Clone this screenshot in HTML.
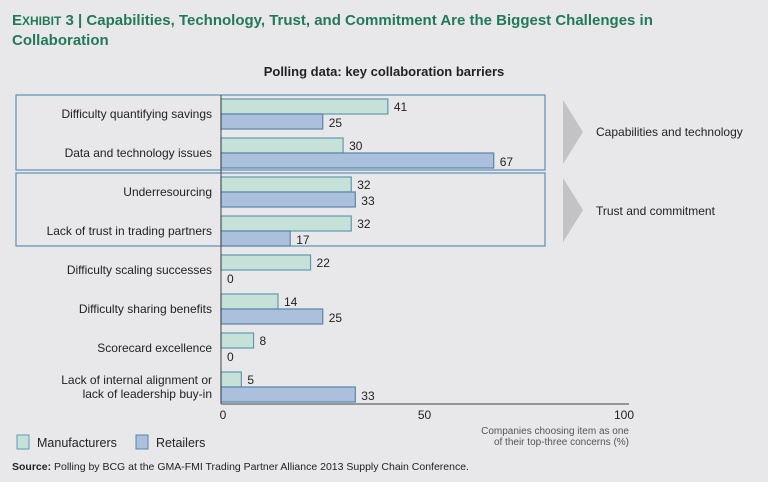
<!DOCTYPE html>
<html><head><meta charset="utf-8"><style>
body{margin:0;background:#e8e8ea;}
svg{display:block;font-family:"Liberation Sans",sans-serif;}
</style></head><body>
<svg id="c" width="768" height="482" viewBox="0 0 768 482" xmlns="http://www.w3.org/2000/svg">
<rect width="768" height="482" fill="#e8e8ea"/>
<text x="12" y="25" font-size="15" font-weight="bold" fill="#21795a"><tspan font-size="15">E</tspan><tspan font-size="12">XHIBIT</tspan> 3 | Capabilities, Technology, Trust, and Commitment Are the Biggest Challenges in</text>
<text x="12" y="45" font-size="15" font-weight="bold" fill="#21795a">Collaboration</text>
<text x="384" y="76" font-size="13" font-weight="bold" fill="#222" text-anchor="middle">Polling data: key collaboration barriers</text>
<rect x="16" y="95" width="529" height="75" fill="none" stroke="#5e90b2" stroke-width="1.2"/>
<rect x="16" y="173" width="529" height="73" fill="none" stroke="#5e90b2" stroke-width="1.2"/>
<polygon points="563,100 583,132 563,164" fill="#c3c3c6"/>
<polygon points="563,178 583,210 563,242" fill="#c3c3c6"/>
<text x="596" y="136" font-size="12" fill="#222">Capabilities and technology</text>
<text x="596" y="215" font-size="12" fill="#222">Trust and commitment</text>
<g id="bars"></g>
<line x1="221" y1="95" x2="221" y2="404" stroke="#444" stroke-width="1"/>
<line x1="221" y1="404" x2="629" y2="404" stroke="#444" stroke-width="1"/>
<g id="ticks"></g>
<text x="629" y="434" font-size="10" fill="#555" text-anchor="end">Companies choosing item as one</text>
<text x="629" y="445" font-size="10" fill="#555" text-anchor="end">of their top-three concerns (%)</text>
<rect x="17" y="435" width="12" height="14" fill="#c6e1d8" stroke="#5f9ab2"/>
<text x="37" y="447" font-size="12.5" fill="#222">Manufacturers</text>
<rect x="136" y="435" width="12" height="14" fill="#abc0dd" stroke="#5b85a8"/>
<text x="156" y="447" font-size="12.5" fill="#222">Retailers</text>
<text x="12" y="470" font-size="10.5" fill="#222"><tspan font-weight="bold">Source:</tspan> Polling by BCG at the GMA-FMI Trading Partner Alliance 2013 Supply Chain Conference.</text>
</svg>
<script>
const categories=[["Difficulty quantifying savings"],["Data and technology issues"],["Underresourcing"],["Lack of trust in trading partners"],["Difficulty scaling successes"],["Difficulty sharing benefits"],["Scorecard excellence"],["Lack of internal alignment or","lack of leadership buy-in"]];
const manufacturers=[41,30,32,32,22,14,8,5];
const retailers=[25,67,33,17,0,25,0,33];
const xTicks=[0,50,100];
const NS="http://www.w3.org/2000/svg";
function x(v){return 221+v*4.07;}
function yc(i){return 114+i*39;}
function mk(tag,attrs,parent){const e=document.createElementNS(NS,tag);for(const k in attrs)e.setAttribute(k,attrs[k]);parent.appendChild(e);return e;}
const g=document.getElementById('bars');
categories.forEach((lines,i)=>{
  const c=yc(i);
  const t=mk('text',{x:212,'font-size':12,fill:'#222','text-anchor':'end'},g);
  
  
  lines.forEach((l,j)=>{const s=mk('tspan',{x:212,y:c+4+(lines.length>1?(j-0.5)*14:0)},t);s.textContent=l;});
  const m=manufacturers[i],r=retailers[i];
  const bm=mk('rect',{x:x(0),y:c-15,width:x(m)-x(0),height:15,fill:'#c6e1d8',stroke:'#5f9ab2','stroke-width':1.2},g);
  
  
  const br=mk('rect',{x:x(0),y:c,width:x(r)-x(0),height:15,fill:'#abc0dd',stroke:'#5b85a8','stroke-width':1.2},g);
  
  
  const lm=mk('text',{x:x(m)+6,y:c-3,'font-size':12,fill:'#222'},g);lm.textContent=m;
  
  
  const lr=mk('text',{x:x(r)+6,y:c+13,'font-size':12,fill:'#222'},g);lr.textContent=r;
  
  
});
const tg=document.getElementById('ticks');
xTicks.forEach(v=>{
  const t=mk('text',{x:x(v)+(v===100?-4:0)+(v===0?2:0),y:419,'font-size':12,fill:'#222','text-anchor':'middle'},tg);
  t.textContent=v;
  
  
});
</script>
</body></html>
